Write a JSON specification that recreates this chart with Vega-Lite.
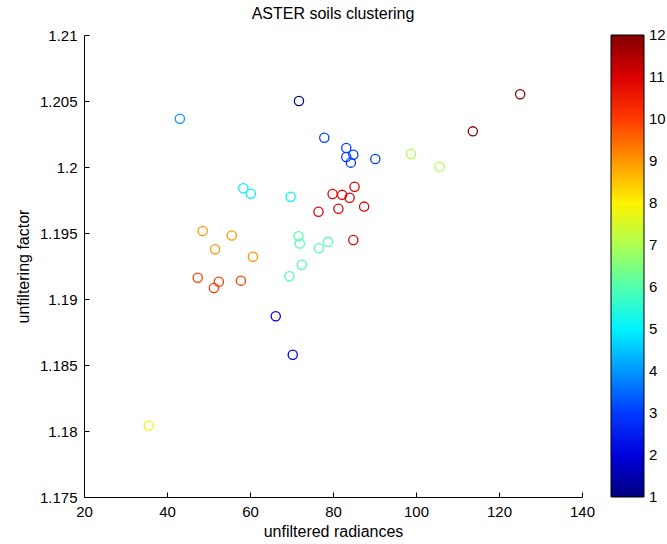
{
  "$schema": "https://vega.github.io/schema/vega-lite/v6.json",
  "width": 498,
  "height": 462,
  "autosize": "none",
  "padding": {"left": 84, "top": 35, "right": 85, "bottom": 47},
  "title": {"text": "ASTER soils clustering", "fontSize": 16, "fontWeight": "normal", "font": "Liberation Sans", "color": "black", "offset": 6},
  "data": {"values": [
    {"rad": 71.8, "fac": 1.2050, "cluster": 1},
    {"rad": 43.1, "fac": 1.20366, "cluster": 4},
    {"rad": 77.9, "fac": 1.20222, "cluster": 3},
    {"rad": 83.2, "fac": 1.20144, "cluster": 3},
    {"rad": 83.2, "fac": 1.20076, "cluster": 3},
    {"rad": 84.9, "fac": 1.20093, "cluster": 3},
    {"rad": 84.3, "fac": 1.20033, "cluster": 3},
    {"rad": 90.2, "fac": 1.2006, "cluster": 3},
    {"rad": 98.8, "fac": 1.20098, "cluster": 7},
    {"rad": 105.7, "fac": 1.20002, "cluster": 7},
    {"rad": 125.1, "fac": 1.20551, "cluster": 12},
    {"rad": 113.7, "fac": 1.2027, "cluster": 12},
    {"rad": 58.4, "fac": 1.19839, "cluster": 5},
    {"rad": 60.2, "fac": 1.19798, "cluster": 5},
    {"rad": 69.8, "fac": 1.19775, "cluster": 5},
    {"rad": 79.9, "fac": 1.19795, "cluster": 11},
    {"rad": 82.2, "fac": 1.19789, "cluster": 11},
    {"rad": 85.2, "fac": 1.19851, "cluster": 11},
    {"rad": 84.0, "fac": 1.19767, "cluster": 11},
    {"rad": 87.5, "fac": 1.197, "cluster": 11},
    {"rad": 81.3, "fac": 1.19684, "cluster": 11},
    {"rad": 76.5, "fac": 1.19661, "cluster": 11},
    {"rad": 84.9, "fac": 1.19447, "cluster": 11},
    {"rad": 48.6, "fac": 1.19515, "cluster": 9},
    {"rad": 55.6, "fac": 1.19481, "cluster": 9},
    {"rad": 51.6, "fac": 1.19377, "cluster": 9},
    {"rad": 60.7, "fac": 1.1932, "cluster": 9},
    {"rad": 71.7, "fac": 1.19475, "cluster": 6},
    {"rad": 72.0, "fac": 1.1942, "cluster": 6},
    {"rad": 78.8, "fac": 1.19433, "cluster": 6},
    {"rad": 76.6, "fac": 1.19385, "cluster": 6},
    {"rad": 72.5, "fac": 1.19259, "cluster": 6},
    {"rad": 69.5, "fac": 1.19172, "cluster": 6},
    {"rad": 47.4, "fac": 1.19161, "cluster": 10},
    {"rad": 52.5, "fac": 1.19131, "cluster": 10},
    {"rad": 51.3, "fac": 1.19083, "cluster": 10},
    {"rad": 57.8, "fac": 1.19139, "cluster": 10},
    {"rad": 66.2, "fac": 1.18869, "cluster": 2},
    {"rad": 70.3, "fac": 1.18578, "cluster": 2},
    {"rad": 35.6, "fac": 1.18042, "cluster": 8}
  ]},
  "mark": {"type": "point", "shape": "circle", "filled": false, "size": 85, "strokeWidth": 1.3, "opacity": 1},
  "encoding": {
    "x": {"field": "rad", "type": "quantitative", "title": "unfiltered radiances",
      "scale": {"domain": [20, 140], "nice": false, "zero": false},
      "axis": {"values": [20, 40, 60, 80, 100, 120, 140], "tickSize": -5, "labelPadding": 12, "titlePadding": 4, "labelFlush": false}},
    "y": {"field": "fac", "type": "quantitative", "title": "unfiltering factor",
      "scale": {"domain": [1.175, 1.21], "nice": false, "zero": false},
      "axis": {"values": [1.175, 1.18, 1.185, 1.19, 1.195, 1.2, 1.205, 1.21], "labelExpr": "format(datum.value, '~g')", "tickSize": -5, "labelPadding": 12, "titlePadding": 8, "labelFlush": false}},
    "color": {"field": "cluster", "type": "quantitative",
      "scale": {"type": "linear", "domain": [1, 2.375, 5.125, 7.875, 10.625, 12], "range": ["#000080", "#0000ff", "#00ffff", "#ffff00", "#ff0000", "#800000"], "interpolate": "rgb"},
      "legend": {"title": null, "orient": "right", "offset": 29, "padding": 0, "direction": "vertical",
        "gradientLength": 462, "gradientThickness": 33, "gradientStrokeColor": "black", "gradientStrokeWidth": 1,
        "values": [1.0001, 2, 3, 4, 5, 6, 7, 8, 9, 10, 11, 11.9999], "labelOverlap": false,
        "labelFontSize": 15, "labelFont": "Liberation Sans", "labelColor": "black", "labelOffset": 5, "format": "d"}}
  },
  "config": {
    "view": {"stroke": null},
    "axis": {"domainColor": "black", "tickColor": "black", "labelColor": "black", "titleColor": "black",
      "labelFont": "Liberation Sans", "titleFont": "Liberation Sans", "labelFontSize": 15, "titleFontSize": 16,
      "titleFontWeight": "normal", "grid": false, "domainWidth": 1, "tickWidth": 1}
  }
}
